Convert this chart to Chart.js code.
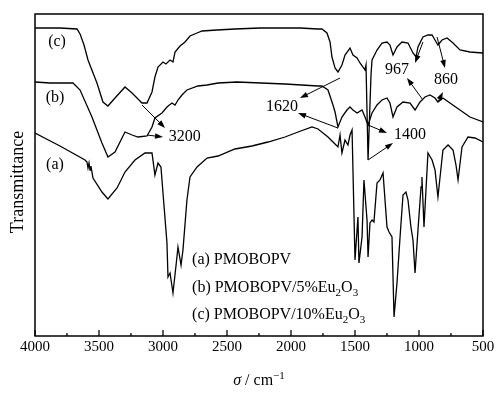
<!DOCTYPE html>
<html lang="en">
<head>
<meta charset="UTF-8">
<title>IR spectra</title>
<script src="https://cdn.jsdelivr.net/npm/chart.js"></script>
<style>
  body { margin: 0; background: #fff; }
  #box { width: 499px; height: 393px; }
</style>
</head>
<body>
<div id="box"><canvas id="ir"></canvas></div>
<script>
// wavenumbers (cm-1) and transmittance (arbitrary units)
var sigmaA = [4000,3805,3609,3594,3586,3578,3570,3563,3547,3477,3430,3359,3297,3219,3141,3086,3063,3039,3016,3000,2969,2961,2945,2922,2891,2883,2859,2844,2813,2789,2734,2656,2570,2438,2305,2180,2047,1945,1836,1789,1711,1656,1633,1617,1602,1578,1555,1539,1523,1500,1477,1469,1445,1430,1406,1398,1383,1367,1352,1328,1305,1281,1250,1234,1211,1195,1172,1148,1125,1102,1086,1063,1047,1031,1008,984,977,961,930,898,875,852,813,773,734,711,695,664,617,563,500];
var transA = [203,190,176,174,168,173,166,170,158,144,137,148,164,176,183,183,161,173,169,143,93,59,63,43,79,89,71,86,136,159,169,178,180,187,190,194,199,204,209,207,199,192,189,201,183,196,191,201,206,76,119,73,99,156,116,79,113,116,114,153,156,163,109,104,99,19,53,99,141,144,136,109,96,63,106,149,159,109,183,176,166,139,186,191,186,171,156,189,199,198,194];

var sigmaB = [4000,3883,3703,3648,3555,3477,3430,3375,3297,3242,3195,3125,3086,3063,3008,2969,2930,2906,2883,2852,2813,2727,2656,2570,2422,2047,1789,1758,1711,1672,1656,1633,1602,1563,1539,1516,1484,1445,1422,1398,1367,1328,1289,1250,1227,1203,1172,1125,1070,1031,992,953,914,875,852,813,758,680,602,500];
var transB = [254,253,253,246,219,193,179,184,204,201,199,200,209,218,223,229,233,231,236,241,246,250,251,253,254,252,250,250,246,231,224,209,219,226,229,226,223,226,219,211,223,231,236,238,233,219,229,234,233,226,234,239,241,238,234,238,233,226,219,214];

var sigmaC = [4000,3805,3672,3648,3617,3586,3516,3469,3430,3375,3297,3242,3164,3125,3086,3063,3039,3000,2977,2945,2922,2906,2867,2828,2789,2734,2695,2578,2438,2242,2047,1930,1789,1758,1719,1695,1680,1656,1633,1602,1578,1539,1516,1484,1461,1422,1414,1398,1375,1367,1328,1289,1250,1227,1203,1172,1133,1086,1047,1023,1008,969,930,898,875,852,820,781,734,680,602,500];
var transC = [308,308,307,302,291,276,253,234,230,238,249,243,233,233,244,259,269,274,272,276,274,284,290,294,300,303,305,306,307,308,308,308,307,307,303,294,279,268,264,271,281,288,281,278,273,266,271,176,261,276,286,293,294,291,281,289,294,293,283,279,289,299,301,301,296,291,296,298,293,286,284,283];

var xTicks = [4000,3500,3000,2500,2000,1500,1000,500];
var xMinorStep = 250;

// curve names next to the traces: [text, sigma, T]
var curveTags = [['(c)',3828,294],['(b)',3844,238],['(a)',3844,171]];
// band labels: [text, sigma, T]
var bandTags = [['3200',2830,199],['1620',2070,229],['1400',1070,201],['967',1172,266],['860',789,256]];
// arrows from band to label: [sigma0, T0, sigma1, T1]
var arrows = [
  [3164,231,2984,208],[3125,201,3000,199],
  [1617,258,1930,238],[1633,208,1945,223],
  [1398,211,1250,203],[1398,176,1203,193],
  [969,294,1031,273],[969,236,1094,258],
  [859,299,797,268],[852,234,813,244]
];
// legend lines: parts of [text, isSubscript]
var legendLines = [
  [['(a) PMOBOPV',0]],
  [['(b) PMOBOPV/5%Eu',0],['2',1],['O',0],['3',1]],
  [['(c) PMOBOPV/10%Eu',0],['2',1],['O',0],['3',1]]
];
var legendSigma = 2773;
var legendT = [76,48,21];

function pts(s, t) {
  var out = [];
  for (var i = 0; i < s.length; i++) out.push({x: s[i], y: t[i]});
  return out;
}

var serif = '"Liberation Serif", serif';

var decor = {
  id: 'decor',
  afterDatasetsDraw: function (chart) {
    var ctx = chart.ctx, a = chart.chartArea;
    var sx = chart.scales.x, sy = chart.scales.y;
    ctx.save();
    ctx.strokeStyle = '#000';
    ctx.fillStyle = '#000';
    ctx.lineWidth = 1.5;
    ctx.strokeRect(a.left, a.top, a.right - a.left, a.bottom - a.top);

    // inward ticks on the bottom axis
    ctx.lineWidth = 1.3;
    for (var v = 500; v <= 4000; v += xMinorStep) {
      var px = sx.getPixelForValue(v);
      var len = xTicks.indexOf(v) >= 0 ? 6 : 3;
      ctx.beginPath();
      ctx.moveTo(px, a.bottom);
      ctx.lineTo(px, a.bottom - len);
      ctx.stroke();
    }

    ctx.font = '16px ' + serif;
    ctx.textBaseline = 'middle';
    ctx.textAlign = 'center';
    curveTags.concat(bandTags).forEach(function (t) {
      ctx.fillText(t[0], sx.getPixelForValue(t[1]), sy.getPixelForValue(t[2]));
    });

    // arrows
    ctx.lineWidth = 1;
    arrows.forEach(function (ar) {
      var x0 = sx.getPixelForValue(ar[0]), y0 = sy.getPixelForValue(ar[1]);
      var x1 = sx.getPixelForValue(ar[2]), y1 = sy.getPixelForValue(ar[3]);
      var ang = Math.atan2(y1 - y0, x1 - x0);
      ctx.beginPath();
      ctx.moveTo(x0, y0);
      ctx.lineTo(x1 - 6 * Math.cos(ang), y1 - 6 * Math.sin(ang));
      ctx.stroke();
      ctx.beginPath();
      ctx.moveTo(x1, y1);
      ctx.lineTo(x1 - 8 * Math.cos(ang) + 2.8 * Math.sin(ang), y1 - 8 * Math.sin(ang) - 2.8 * Math.cos(ang));
      ctx.lineTo(x1 - 8 * Math.cos(ang) - 2.8 * Math.sin(ang), y1 - 8 * Math.sin(ang) + 2.8 * Math.cos(ang));
      ctx.closePath();
      ctx.fill();
    });

    // legend text with subscripts
    ctx.textAlign = 'left';
    legendLines.forEach(function (parts, i) {
      var x = sx.getPixelForValue(legendSigma);
      var y = sy.getPixelForValue(legendT[i]);
      parts.forEach(function (p) {
        ctx.font = (p[1] ? '11px ' : '16px ') + serif;
        ctx.fillText(p[0], x, p[1] ? y + 5 : y);
        x += ctx.measureText(p[0]).width;
      });
    });

    // axis titles
    ctx.font = '18px ' + serif;
    ctx.save();
    ctx.translate(18, 182);
    ctx.rotate(-Math.PI / 2);
    ctx.textAlign = 'center';
    ctx.fillText('Transmittance', 0, 0);
    ctx.restore();

    var cx = (a.left + a.right) / 2, ty = 381;
    var p1 = 'σ', p2 = ' / cm', p3 = '−1';
    ctx.font = 'italic 16px ' + serif;
    var w1 = ctx.measureText(p1).width;
    ctx.font = '16px ' + serif;
    var w2 = ctx.measureText(p2).width;
    ctx.font = '11px ' + serif;
    var w3 = ctx.measureText(p3).width;
    var x = cx - (w1 + w2 + w3) / 2;
    ctx.textAlign = 'left';
    ctx.font = 'italic 16px ' + serif;
    ctx.fillText(p1, x, ty);
    ctx.font = '16px ' + serif;
    ctx.fillText(p2, x + w1, ty);
    ctx.font = '11px ' + serif;
    ctx.fillText(p3, x + w1 + w2, ty - 5);
    ctx.restore();
  }
};

function line(s, t) {
  return {
    data: pts(s, t),
    borderColor: '#000',
    borderWidth: 1.3,
    pointRadius: 0,
    tension: 0,
    fill: false
  };
}

new Chart(document.getElementById('ir'), {
  type: 'scatter',
  data: { datasets: [line(sigmaA, transA), line(sigmaB, transB), line(sigmaC, transC)] },
  options: {
    responsive: true,
    maintainAspectRatio: false,
    animation: false,
    showLine: true,
    layout: { padding: { left: 35, right: 16, top: 14, bottom: 0 } },
    plugins: { legend: { display: false }, tooltip: { enabled: false } },
    scales: {
      x: {
        type: 'linear',
        min: 500,
        max: 4000,
        reverse: true,
        afterFit: function (s) { s.height = 57; },
        afterBuildTicks: function (s) { s.ticks = xTicks.map(function (v) { return {value: v}; }); },
        grid: { display: false, drawTicks: false },
        border: { display: false },
        ticks: {
          color: '#000', padding: 2, maxRotation: 0, autoSkip: false,
          font: { family: serif, size: 15 },
          callback: function (v) { return String(v); }
        }
      },
      y: { display: false, min: 0, max: 322 }
    }
  },
  plugins: [decor]
});
</script>
</body>
</html>
